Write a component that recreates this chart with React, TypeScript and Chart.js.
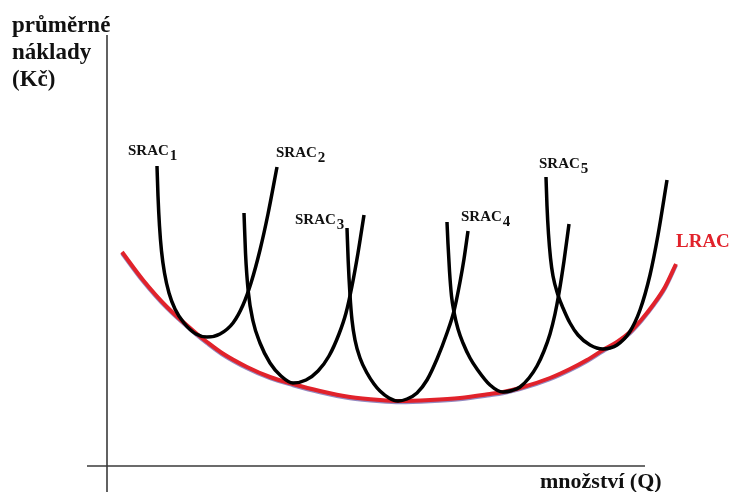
import React, { useEffect, useRef } from "react";
import { Chart, registerables } from "chart.js";

Chart.register(...registerables);

// Q (quantity) vs average cost
const SRAC1: [number, number][] = [
  [50, 300], [51, 270], [52.5, 240], [54.5, 215], [57.5, 193], [62, 173], [68, 157], [77, 143],
  [89, 132], [100, 129], [113, 132], [126, 143], [136, 161], [144, 183], [153, 216], [161, 252], [170, 299],
];
const SRAC2: [number, number][] = [
  [137, 253], [138.5, 213], [141.3, 174], [146, 145], [153, 123], [163, 103], [174, 90], [186, 83],
  [199, 86], [211, 95], [222, 110], [232, 132], [239, 153], [245, 180], [251, 213], [257, 251],
];
const SRAC3: [number, number][] = [
  [240, 238], [241.2, 205], [243, 171], [245, 146], [248, 126], [253, 108], [260, 93], [267, 82],
  [273, 75], [282, 68], [291, 65], [300, 67], [310, 73], [320, 86], [330, 107], [340, 133],
  [347, 155], [353, 184], [357, 207], [361, 235],
];
const SRAC4: [number, number][] = [
  [340, 244], [341, 222], [342.5, 195], [344.5, 170], [347, 154], [351, 137], [356, 123], [363, 108],
  [370, 97], [383, 81], [396, 74], [405, 75.5], [413, 79], [422, 88], [430, 100], [437, 115],
  [443, 132], [448, 152], [452, 173], [457, 205], [462, 242],
];
const SRAC5: [number, number][] = [
  [439, 289], [440, 260], [441.5, 232], [443.5, 208], [446, 190], [451, 171], [456, 158], [463, 143],
  [471, 131], [483, 121], [496, 117], [503, 118], [510, 121], [522, 133], [533, 156], [543, 191],
  [551, 231], [560, 286],
];
const LRAC: [number, number][] = [
  [15, 214], [36, 186], [60, 159], [90, 132], [100, 124], [115, 113], [140, 99], [163, 89],
  [186, 82], [213, 75], [243, 69], [273, 66], [293, 65], [323, 66], [353, 68], [383, 72],
  [396, 74], [413, 78], [443, 88], [463, 97], [480, 106], [496, 116], [510, 124], [523, 134],
  [535, 147], [546, 161], [558, 179], [569, 202],
];
const Y_AXIS: [number, number][] = [[0, -26], [0, 431]];
const X_AXIS: [number, number][] = [[-20, 0], [538, 0]];

const SRAC_CURVES = [SRAC1, SRAC2, SRAC3, SRAC4, SRAC5];
const SRAC_SUBS = ["1", "2", "3", "4", "5"];
const Y_TITLE = ["průměrné", "náklady", "(Kč)"];
const X_TITLE = "množství (Q)";
const LRAC_NAME = "LRAC";

const RED = "#e1222b";
const SERIF = '"Liberation Serif", "Times New Roman", serif';

const toPts = (a: [number, number][]) => a.map(([x, y]) => ({ x, y }));

const labelPlugin = {
  id: "labels",
  afterDatasetsDraw(chart: any) {
    const { ctx } = chart;
    const xs = chart.scales.x;
    const ys = chart.scales.y;
    const px = (v: number) => xs.getPixelForValue(v);
    const py = (v: number) => ys.getPixelForValue(v);
    ctx.save();
    ctx.textAlign = "left";
    ctx.textBaseline = "alphabetic";
    ctx.fillStyle = "#111";
    const sracPos = [[21, 311], [169, 309], [188, 242], [354, 245], [432, 298]];
    SRAC_SUBS.forEach((s, i) => {
      const [lx, ly] = sracPos[i];
      ctx.font = `bold 15px ${SERIF}`;
      ctx.fillText("SRAC", px(lx), py(ly));
      const w = ctx.measureText("SRAC").width;
      ctx.fillText(s, px(lx) + w + 1, py(ly) + 5);
    });
    ctx.font = `bold 23px ${SERIF}`;
    const titleBase = [434, 407, 380];
    Y_TITLE.forEach((t, i) => ctx.fillText(t, px(-95), py(titleBase[i])));
    ctx.font = `bold 22px ${SERIF}`;
    ctx.fillText(X_TITLE, px(433), py(-22));
    ctx.fillStyle = RED;
    ctx.font = `bold 19px ${SERIF}`;
    ctx.fillText(LRAC_NAME, px(569), py(219));
    ctx.restore();
  },
};

const shadowPlugin = {
  id: "lracShadow",
  beforeDatasetDraw(chart: any, args: any) {
    if (chart.data.datasets[args.index].label === "LRAC") {
      const ctx = chart.ctx;
      ctx.save();
      ctx.shadowColor = "rgba(60,40,140,0.55)";
      ctx.shadowOffsetY = 1.2;
      ctx.shadowBlur = 0.5;
    }
  },
  afterDatasetDraw(chart: any, args: any) {
    if (chart.data.datasets[args.index].label === "LRAC") {
      chart.ctx.restore();
    }
  },
};

export default function App() {
  const ref = useRef<HTMLCanvasElement>(null);
  useEffect(() => {
    const line = (label: string, pts: [number, number][], color: string, width: number, order: number, smooth: boolean) => ({
      label,
      data: toPts(pts),
      showLine: true,
      borderColor: color,
      borderWidth: width,
      pointRadius: 0,
      pointHoverRadius: 0,
      tension: smooth ? 0.4 : 0,
      cubicInterpolationMode: smooth ? ("monotone" as const) : ("default" as const),
      fill: false,
      order,
      borderCapStyle: "butt" as const,
      borderJoinStyle: "round" as const,
    });
    const datasets: any[] = [
      line("yAxis", Y_AXIS, "#3a3a3a", 1.6, 20, false),
      line("xAxis", X_AXIS, "#3a3a3a", 1.6, 20, false),
      line("LRAC", LRAC, RED, 4, 10, true),
      ...SRAC_CURVES.map((c, i) => line("SRAC" + SRAC_SUBS[i], c, "#000", 3.5, 0, true)),
    ];
    const chart = new Chart(ref.current!, {
      type: "scatter",
      data: { datasets },
      options: {
        animation: false,
        responsive: false,
        layout: { padding: 0 },
        events: [],
        plugins: { legend: { display: false }, tooltip: { enabled: false } },
        scales: {
          x: { type: "linear", min: -107, max: 623, display: false },
          y: { type: "linear", min: -26, max: 466, display: false },
        },
      },
      plugins: [shadowPlugin, labelPlugin],
    });
    return () => chart.destroy();
  }, []);
  return (
    <div style={{ position: "fixed", left: 0, top: 0, width: 730, height: 492, background: "#fff" }}>
      <canvas ref={ref} width={730} height={492} style={{ display: "block" }} />
    </div>
  );
}
